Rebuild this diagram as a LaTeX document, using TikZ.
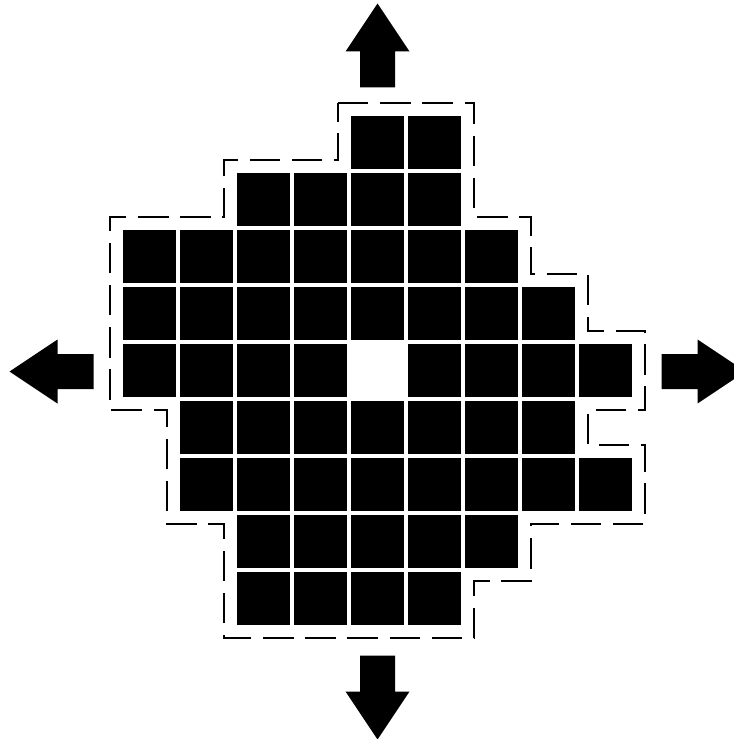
\documentclass[tikz,border=0pt]{standalone}
\usepackage{tikz}
\begin{document}
\begin{tikzpicture}[x=.03cm,y=-.03cm,
    cell/.style={fill=black},
    rim/.style={draw=black,line width=1.3pt,dash pattern=on 26pt off 10pt},
    pointer/.style={fill=black}]
  \useasboundingbox (0,0) rectangle (733,739);
  % blocks, row/first column/last column, centre left empty
  \foreach \r/\a/\b in {0/4/5,1/2/5,2/0/6,3/0/7,4/0/8,5/1/7,6/1/8,7/2/6,8/2/5}
    \foreach \c in {\a,...,\b}
      {\ifnum\numexpr\r*10+\c\relax=44 \else
        \fill[cell] (123+57*\c,116+57*\r) rectangle ++(53,53);
      \fi}
  % dashed hull
  \draw[rim] (338,103) -- (474,103) -- (474,217) -- (531,217) -- (531,274)
    -- (588,274) -- (588,331) -- (645,331) -- (645,410) -- (588,410)
    -- (588,445) -- (645,445) -- (645,524) -- (531,524) -- (531,581)
    -- (474,581) -- (474,638) -- (224,638) -- (224,524) -- (167,524)
    -- (167,410) -- (110,410) -- (110,217) -- (224,217) -- (224,160)
    -- (338,160) -- cycle;
  % four arrows
  \foreach \ang in {0,90,180,270}
    \fill[pointer,shift={(377.5,371.5)},rotate=\ang] (0,-368) -- (32,-320)
      -- (17.5,-320) -- (17.5,-284) -- (-17.5,-284) -- (-17.5,-320)
      -- (-32,-320) -- cycle;
\end{tikzpicture}
\end{document}
